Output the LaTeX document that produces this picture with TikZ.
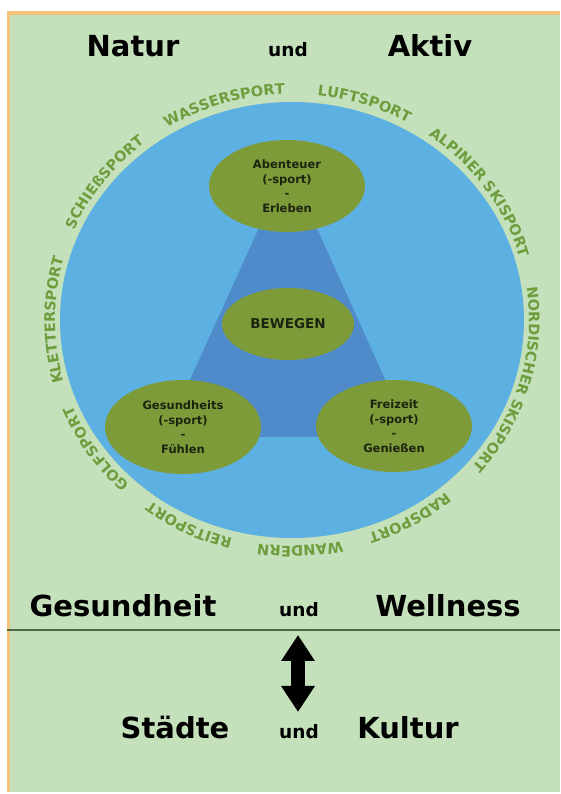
\documentclass[tikz,border=0pt]{standalone}
\usepackage{fontspec}
\setmainfont{DejaVu Sans}
\usetikzlibrary{shapes.geometric,decorations.text,arrows.meta}
\definecolor{bggreen}{HTML}{C5E1BB}
\definecolor{circblue}{HTML}{5DB1E2}
\definecolor{triblue}{HTML}{4F8BCB}
\definecolor{olivefill}{HTML}{7E9B3A}
\definecolor{arcgreen}{HTML}{6E9D3E}
\definecolor{borderorange}{HTML}{F5C47A}
\definecolor{darktext}{HTML}{1C2410}
\definecolor{sepline}{HTML}{4F6A4A}
\newcommand\myarcfont{\fontsize{14.5}{14.5}\selectfont\bfseries}
\newcommand\arcword[2]{\path[decorate,decoration={text along path, text align=center, text color=arcgreen, text={|\myarcfont|#2}}] (cc) ++({#1+40}:237 and 226) arc[start angle={#1+40}, end angle={#1-40}, x radius=237, y radius=226];}
\begin{document}
\begin{tikzpicture}[x=1pt,y=1pt,
  title/.style={font=\fontsize{29}{32}\selectfont\bfseries, text=black, anchor=base, inner sep=0pt},
  undtext/.style={font=\fontsize{18.5}{20}\selectfont\bfseries, text=black, anchor=base, inner sep=0pt},
  oval/.style={ellipse, fill=olivefill, minimum width=156pt, minimum height=92pt, inner sep=0pt, align=center, font=\fontsize{11.5}{14.5}\selectfont\bfseries, text=darktext}]
\useasboundingbox (0,0) rectangle (560,794);
\fill[white] (0,0) rectangle (560,794);
\fill[bggreen] (7,2) rectangle (560,783);
\draw[borderorange, line width=3.5pt] (8.6,2) -- (8.6,781) -- (560,781);
% circle
\coordinate (cc) at (292,474);
\fill[circblue] (cc) ellipse[x radius=232, y radius=218];
% triangle
\fill[triblue] (288,630) -- (164,357) -- (411,357) -- cycle;
% ellipses
\node[oval] (aben) at (287,608) {Abenteuer\\(-sport)\\-\\Erleben};
\node[oval, minimum width=132pt, minimum height=72pt, font=\fontsize{13.5}{15}\selectfont\bfseries] (bew) at (288,470) {BEWEGEN};
\node[oval, minimum height=94pt] (ges) at (183,367) {Gesundheits\\(-sport)\\-\\Fühlen};
\node[oval] (frei) at (394,368) {Freizeit\\(-sport)\\-\\Genießen};
% arc words
\arcword{107}{WASSERSPORT}
\arcword{72}{LUFTSPORT}
\arcword{35}{ALPINER SKISPORT}
\arcword{-16}{NORDISCHER SKISPORT}
\arcword{-60}{RADSPORT}
\arcword{-88}{WANDERN}
\arcword{-116}{REITSPORT}
\arcword{-146}{GOLFSPORT}
\arcword{180}{KLETTERSPORT}
\arcword{143}{SCHIEßSPORT}
% titles
\node[title] (natur) at (133,737) {Natur};
\node[undtext] (und1) at (288,737) {und};
\node[title] (aktiv) at (430,737) {Aktiv};
\node[title] (gesund) at (123,177) {Gesundheit};
\node[undtext] (und2) at (299,177) {und};
\node[title] (well) at (448,177) {Wellness};
\draw[sepline, line width=1.5pt] (7,164) -- (560,164);
\node[title] (staedte) at (175,55) {Städte};
\node[undtext] (und3) at (299,55) {und};
\node[title] (kultur) at (408,55) {Kultur};
% arrow
\coordinate (atop) at (298,159);
\coordinate (abot) at (298,82);
\draw[line width=14pt, {Triangle[length=26pt,width=32pt]}-{Triangle[length=26pt,width=32pt]}] (atop) -- (abot);
\end{tikzpicture}
\end{document}
